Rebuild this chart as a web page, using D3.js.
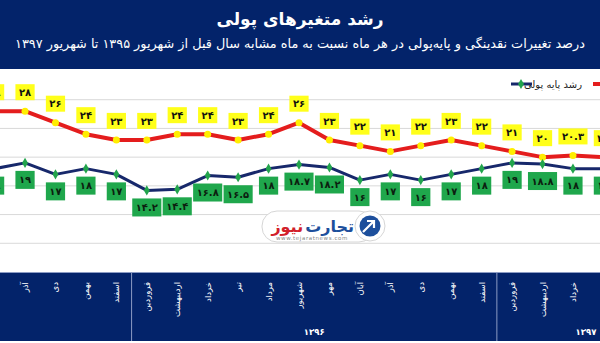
<!DOCTYPE html>
<html>
<head>
<meta charset="utf-8">
<script src="https://cdn.jsdelivr.net/npm/d3@7"></script>
<style>
  html, body { margin: 0; padding: 0; background: #ffffff; }
  svg { display: block; font-family: "DejaVu Sans", sans-serif; }
</style>
</head>
<body>
<svg id="chart" width="600" height="343"></svg>
<script>
// Months from Shahrivar 1395 to Shahrivar 1397
const months = [
  "شهریور", "مهر", "آبان", "آذر", "دی", "بهمن", "اسفند",
  "فروردین", "اردیبهشت", "خرداد", "تیر", "مرداد", "شهریور", "مهر", "آبان", "آذر", "دی", "بهمن", "اسفند",
  "فروردین", "اردیبهشت", "خرداد", "تیر", "مرداد", "شهریور"
];
// Year group of each month (index into yearLabels)
const monthYear = [0,0,0,0,0,0,0, 1,1,1,1,1,1,1,1,1,1,1,1, 2,2,2,2,2,2];
const yearLabels = ["", "۱۳۹۶", "۱۳۹۷"];

// Liquidity growth (%)
const liquidity = [null, null, 28, 28, 26, 24, 23, 23, 24, 24, 23, 24, 26, 23, 22, 21, 22, 23, 22, 21, 20, 20.3, 20, null, null];
// Monetary base growth (%)
const monetaryBase = [null, null, 18, 19, 17, 18, 17, 14.2, 14.4, 16.8, 16.5, 18, 18.7, 18.2, 16, 17, 16, 17, 18, 19, 18.8, 18, 18, null, null];

const yTicks = [5, 10, 15, 20, 25, 30];

const svg = d3.select("#chart");
const W = 600;

const x = d3.scaleBand().domain(d3.range(months.length)).range([-81.5, 679.5]).padding(0);
const y = d3.scaleLinear().domain([0, 35]).range([272, 71]);
const cx = i => x(i) + x.bandwidth() / 2;
const onCanvas = i => cx(i) > 4 && cx(i) < W - 4;

const navy = "#03236a";
const fa = s => String(s).replace(/[0-9]/g, d => "۰۱۲۳۴۵۶۷۸۹"[+d]);

// Header
svg.append("rect").attr("x", 0).attr("y", 0).attr("width", W).attr("height", 69).attr("fill", navy);
svg.append("text").attr("x", 300).attr("y", 25).attr("text-anchor", "middle")
  .attr("fill", "#fff").attr("font-weight", "bold").attr("font-size", 17)
  .text("رشد متغیرهای پولی");
const sub = svg.append("text").attr("x", 300).attr("y", 48).attr("text-anchor", "middle")
  .attr("fill", "#fff").attr("font-size", 13)
  .text("درصد تغییرات نقدینگی و پایه‌پولی در هر ماه نسبت به ماه مشابه سال قبل از شهریور ۱۳۹۵ تا شهریور ۱۳۹۷");
const subW = sub.node().getComputedTextLength();
sub.attr("font-size", 13 * 570 / subW);

// Grid
svg.append("g").selectAll("line").data(yTicks).join("line")
  .attr("x1", 0).attr("x2", W).attr("y1", d => y(d)).attr("y2", d => y(d))
  .attr("stroke", "#d9d9d9").attr("stroke-width", 1);

// Category axis band
svg.append("rect").attr("x", 0).attr("y", 272).attr("width", W).attr("height", 69).attr("fill", navy);
svg.append("line").attr("x1", 0).attr("x2", W).attr("y1", 272.5).attr("y2", 272.5).attr("stroke", "#8c9cc4");

svg.append("g").selectAll("text").data(d3.range(months.length).filter(onCanvas)).join("text")
  .attr("transform", i => `translate(${cx(i) + 3},${282}) rotate(-90)`)
  .attr("text-anchor", "end").attr("fill", "#fff").attr("font-size", 8.5)
  .text(i => months[i]);

// Year groups
const groups = d3.groups(d3.range(months.length), i => monthYear[i]);
groups.forEach(([g, idx]) => {
  const x0 = x(idx[0]), x1 = x(idx[idx.length - 1]) + x.bandwidth();
  if (g > 0) {
    svg.append("line").attr("x1", x0).attr("x2", x0).attr("y1", 272).attr("y2", 341)
      .attr("stroke", "#8c9cc4").attr("stroke-width", 1);
  }
  if (yearLabels[g]) {
    const xc = Math.min((x0 + x1) / 2, W - 14);
    svg.append("text").attr("x", xc).attr("y", 335).attr("text-anchor", "middle")
      .attr("fill", "#fff").attr("font-size", 8.5).attr("font-weight", "bold")
      .text(yearLabels[g]);
  }
});

// Watermark
const wm = svg.append("g");
wm.append("rect").attr("x", 262).attr("y", 211).attr("width", 112).attr("height", 31).attr("rx", 15)
  .attr("fill", "#fff").attr("stroke", "#d6d6d6");
wm.append("circle").attr("cx", 370).attr("cy", 226).attr("r", 15).attr("fill", "#fff").attr("stroke", "#d6d6d6");
wm.append("circle").attr("cx", 370).attr("cy", 226).attr("r", 10.5).attr("fill", "#1d4f9c");
wm.append("path").attr("d", "M363,232 L373,222 M367,221 L374,221 L374,228").attr("stroke", "#fff")
  .attr("stroke-width", 2.2).attr("fill", "none");
const brand1 = wm.append("text").attr("x", 354).attr("y", 232).attr("text-anchor", "end").attr("font-weight", "bold")
  .attr("font-size", 16).attr("fill", "#1d4f9c").text("تجارت");
const b1w = brand1.node().getComputedTextLength();
wm.append("text").attr("x", 354 - b1w - 2).attr("y", 232).attr("text-anchor", "end").attr("font-weight", "bold")
  .attr("font-size", 16).attr("fill", "#d21f2b").text("نیوز");
wm.append("text").attr("x", 312).attr("y", 240).attr("text-anchor", "middle")
  .attr("font-size", 5.5).attr("fill", "#888").attr("letter-spacing", 0.6).text("www.tejaratnews.com");

// Lines
const defined = d => d.v != null;
const toPts = arr => arr.map((v, i) => ({ i, v }));
const line = d3.line().defined(defined).x(d => cx(d.i)).y(d => y(d.v));

const liqPts = toPts(liquidity), basePts = toPts(monetaryBase);

svg.append("path").datum(liqPts).attr("d", line).attr("fill", "none")
  .attr("stroke", "#e41d1d").attr("stroke-width", 4).attr("stroke-linejoin", "round");
svg.append("path").datum(basePts).attr("d", line).attr("fill", "none")
  .attr("stroke", "#17286b").attr("stroke-width", 3).attr("stroke-linejoin", "round");

svg.append("g").selectAll("circle").data(liqPts.filter(defined)).join("circle")
  .attr("cx", d => cx(d.i)).attr("cy", d => y(d.v)).attr("r", 3.5).attr("fill", "#ffee00");
svg.append("g").selectAll("path").data(basePts.filter(defined)).join("path")
  .attr("d", d3.symbol(d3.symbolDiamond, 30))
  .attr("transform", d => `translate(${cx(d.i)},${y(d.v)})`).attr("fill", "#22a44c");

// Value labels
function labels(pts, dy, fill, textFill, h) {
  const g = svg.append("g").selectAll("g").data(pts.filter(defined)).join("g")
    .attr("transform", d => `translate(${cx(d.i)},${y(d.v) + dy})`);
  g.append("rect").attr("fill", fill);
  const t = g.append("text").attr("text-anchor", "middle").attr("dy", "0.36em")
    .attr("font-size", 10).attr("font-weight", "bold").attr("fill", textFill)
    .text(d => fa(d.v));
  t.each(function () {
    const w = this.getComputedTextLength() + 7;
    d3.select(this.parentNode).select("rect")
      .attr("x", -w / 2).attr("y", -h / 2).attr("width", w).attr("height", h);
  });
}
labels(liqPts, -19, "#ffff1a", "#111", 16);
labels(basePts, 17, "#1fa74c", "#0c1f10", 18);

// Legend
const lg = svg.append("g").attr("transform", "translate(0,84)");
lg.append("line").attr("x1", 511).attr("x2", 532).attr("stroke", "#17286b").attr("stroke-width", 3);
lg.append("path").attr("d", d3.symbol(d3.symbolDiamond, 30)).attr("transform", "translate(521,0)").attr("fill", "#22a44c");
lg.append("text").attr("x", 582).attr("y", 0).attr("dy", "0.35em").attr("text-anchor", "end")
  .attr("font-size", 10).attr("fill", "#222").text("رشد پایه پولی");
lg.append("line").attr("x1", 593).attr("x2", 615).attr("stroke", "#e41d1d").attr("stroke-width", 4);
</script>
</body>
</html>
